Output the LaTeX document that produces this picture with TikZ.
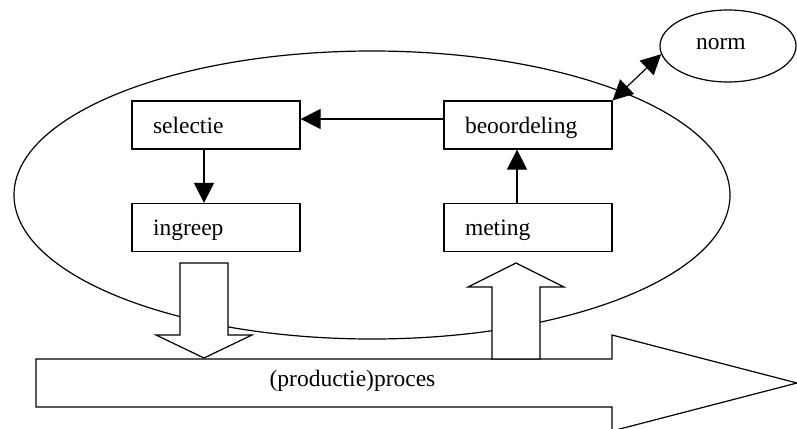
\documentclass[tikz,border=0pt]{standalone}
\usepackage{fontspec}
\setmainfont{Liberation Serif}
\usetikzlibrary{arrows.meta,shapes.geometric}
\begin{document}
\begin{tikzpicture}[x=1pt,y=-1pt, line width=1.2pt, font=\fontsize{23.5}{28}\selectfont,
  box/.style={draw, fill=white, minimum width=168pt, minimum height=48pt, inner xsep=21pt, inner ysep=0pt, text width=126pt, align=left, text height=19pt, text depth=3pt},
  arr/.style={-{Triangle[width=20pt,length=20pt]}},
  dblarr/.style={{Triangle[width=20pt,length=20pt]}-{Triangle[width=20pt,length=20pt]}},
  blockarrow/.style={draw, fill=white, line join=miter}]
\useasboundingbox (0,0) rectangle (797,428);
\clip (0,0) rectangle (797,428);
% control loop ellipse
\node[draw, ellipse, minimum width=716pt, minimum height=288pt, inner sep=0pt] (loop) at (372,195) {};
% boxes
\node[box] (selectie) at (216,125) {selectie};
\node[box] (ingreep) at (216,227.5) {ingreep};
\node[box] (beoordeling) at (528,125) {beoordeling};
\node[box] (meting) at (528,227.5) {meting};
% norm
\node[draw, fill=white, ellipse, minimum width=136pt, minimum height=72pt, inner sep=0pt, text width=64pt, align=left, text height=12pt, text depth=4pt] (norm) at (728,46) {norm};
% connectors
\draw[arr] ([yshift=6pt]beoordeling.west) -- ([yshift=6pt]selectie.east);
\draw[arr] ([xshift=-12pt]selectie.south) -- ([xshift=-12pt]ingreep.north);
\draw[arr] ([xshift=-11pt]meting.north) -- ([xshift=-11pt]beoordeling.south);
\draw[dblarr] (beoordeling.north east) -- (norm.187);
% block arrows
\draw[blockarrow] (36,359) -- (612,359) -- (612,335) -- (797,383) -- (612,431) -- (612,407) -- (36,407) -- cycle;
\draw[blockarrow] (180,263) -- (228,263) -- (228,335) -- (252,335) -- (204,358) -- (156,335) -- (180,335) -- cycle;
\draw[blockarrow] (492,359) -- (492,287) -- (468,287) -- (516,263) -- (564,287) -- (540,287) -- (540,359) -- cycle;
\node[anchor=base west, inner sep=0pt] (proc) at (269,386) {(productie)proces};
\end{tikzpicture}
\end{document}
